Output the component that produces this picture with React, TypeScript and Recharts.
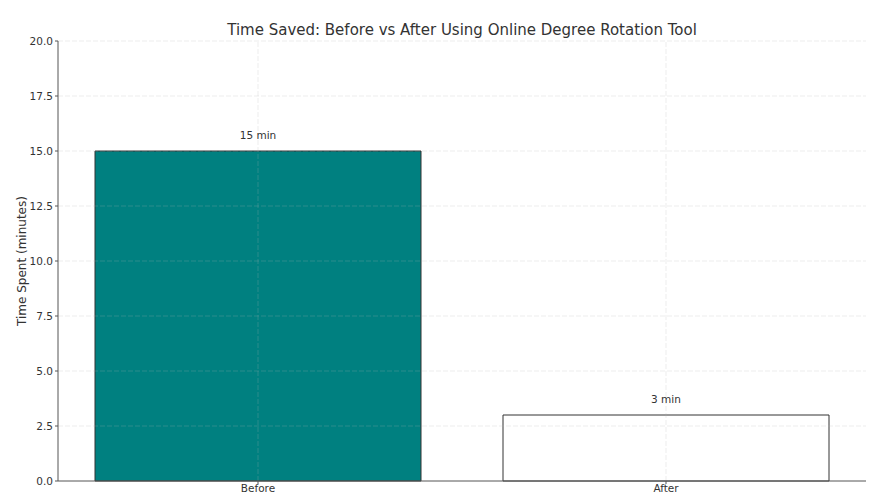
import React from 'react'
import {
  ComposedChart, Bar, XAxis, YAxis, ReferenceLine, LabelList, Cell, Label,
} from 'recharts'

const categories = ['Before', 'After']
const minutes = [15, 3]
const barLabels = ['15 min', '3 min']
const yTicks = [0, 2.5, 5, 7.5, 10, 12.5, 15, 17.5, 20]

const FILLS = ['#008080', '#ffffff']
const FONT = '"DejaVu Sans", sans-serif'
const GRID = { stroke: '#b0b0b0', strokeOpacity: 0.3, strokeDasharray: '5 2', strokeWidth: 0.8 }

const data = categories.map((c, i) => ({ name: c, value: minutes[i], label: barLabels[i] }))

export default function App() {
  return (
    <div style={{ position: 'absolute', left: 0, top: 0, width: 874, height: 496, background: '#fff', fontFamily: FONT }}>
      <div style={{
        position: 'absolute', left: 58, width: 808, top: 20, textAlign: 'center',
        fontSize: 15, color: '#333', lineHeight: '20px',
      }}>
        Time Saved: Before vs After Using Online Degree Rotation Tool
      </div>
      <ComposedChart width={874} height={496} data={data} margin={{ top: 41, right: 8, bottom: 0, left: 0 }}>
        <XAxis
          dataKey="name"
          height={15}
          padding={{ left: -4, right: -4 }}
          tickSize={3}
          tickMargin={1}
          tick={{ fontSize: 10.5, fill: '#333', fontFamily: FONT }}
          axisLine={{ stroke: '#555', strokeWidth: 1 }}
          tickLine={{ stroke: '#555' }}
        />
        <YAxis
          width={58}
          domain={[0, 20]}
          ticks={yTicks}
          tickFormatter={v => Number(v).toFixed(1)}
          tickSize={3}
          tickMargin={2}
          tick={{ fontSize: 10.5, fill: '#333', fontFamily: FONT }}
          axisLine={{ stroke: '#555', strokeWidth: 1 }}
          tickLine={{ stroke: '#555' }}
        >
          <Label
            value="Time Spent (minutes)"
            angle={-90}
            position="insideLeft"
            offset={22}
            style={{ textAnchor: 'middle', fontSize: 12, fill: '#333', fontFamily: FONT }}
          />
        </YAxis>
        <Bar dataKey="value" barSize={326} isAnimationActive={false} stroke="#333" strokeWidth={1}>
          {data.map((d, i) => <Cell key={d.name} fill={FILLS[i]} />)}
          <LabelList dataKey="label" position="top" offset={12} style={{ fontSize: 10.5, fill: '#333', fontFamily: FONT }} />
        </Bar>
        {yTicks.slice(1).map(t => <ReferenceLine key={t} y={t} {...GRID} />)}
        {categories.map(c => <ReferenceLine key={c} x={c} {...GRID} />)}
      </ComposedChart>
    </div>
  )
}
